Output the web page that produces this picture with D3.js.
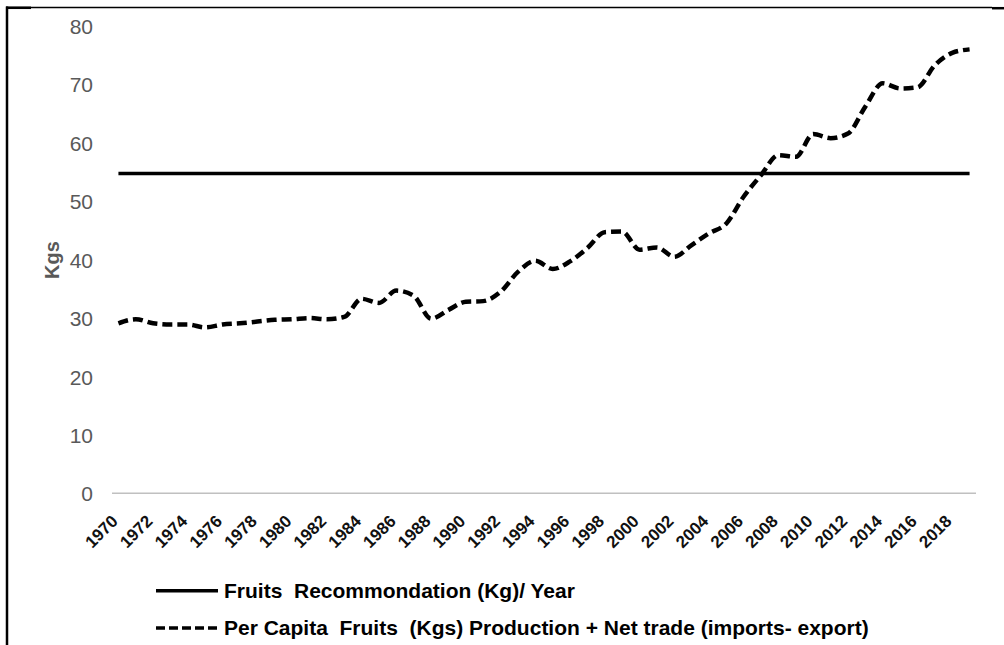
<!DOCTYPE html>
<html>
<head>
<meta charset="utf-8">
<script src="https://cdn.jsdelivr.net/npm/d3@7"></script>
<style>
  body { margin: 0; background: #fff; }
  svg { display: block; font-family: "Liberation Sans", Arial, sans-serif; }
</style>
</head>
<body>
<svg id="chart" width="1004" height="645"></svg>
<script>
// years on the category axis
var years = d3.range(1970, 2020);
// per capita fruits (kg) production + net trade
var perCapita = [29.1, 29.8, 29.1, 28.9, 28.9, 28.4, 28.9, 29.1, 29.4, 29.7,
                 29.8, 30.0, 29.8, 30.2, 33.3, 32.6, 34.7, 33.8, 29.9, 31.4,
                 32.8, 32.9, 34.5, 37.9, 39.8, 38.4, 39.7, 42.0, 44.7, 44.8,
                 41.7, 42.1, 40.5, 42.5, 44.5, 46.2, 50.8, 54.5, 57.9, 57.6,
                 61.5, 60.8, 61.6, 66.2, 70.2, 69.3, 69.5, 73.3, 75.4, 76.0];
// recommendation (kg / year)
var recommendation = years.map(function() { return 54.75; });
var yTicks = [0, 10, 20, 30, 40, 50, 60, 70, 80];
var xTickYears = years.filter(function(y) { return y % 2 === 0; });
var legendLabels = ["Fruits  Recommondation (Kg)/ Year",
                    "Per Capita  Fruits  (Kgs) Production + Net trade (imports- export)"];

var svg = d3.select("#chart");

// frame (left and top only, as in the scan)
svg.append("line").attr("x1", 7).attr("y1", 6.5).attr("x2", 7).attr("y2", 645)
    .attr("stroke", "#000").attr("stroke-width", 2.5);
svg.append("line").attr("x1", 6).attr("y1", 7.5).attr("x2", 992).attr("y2", 7.5)
    .attr("stroke", "#000").attr("stroke-width", 1.5);
svg.append("line").attr("x1", 6).attr("y1", 7.8).attr("x2", 31).attr("y2", 7.8)
    .attr("stroke", "#000").attr("stroke-width", 2.5);
svg.append("line").attr("x1", 992).attr("y1", 8.2).attr("x2", 1004).attr("y2", 8.2)
    .attr("stroke", "#000").attr("stroke-width", 2.5);

var x = d3.scalePoint().domain(years).range([112, 976]).padding(0.37);
var y = d3.scaleLinear().domain([0, 80]).range([493.3, 26]);

// y axis (labels only)
var yAxis = svg.append("g").attr("transform", "translate(93,0)")
    .call(d3.axisLeft(y).tickValues(yTicks).tickSize(0).tickPadding(0));
yAxis.select(".domain").remove();
yAxis.selectAll("text")
    .attr("fill", "#595959")
    .style("font-size", "21px")
    .attr("dy", "0.36em");

svg.append("text")
    .attr("transform", "translate(59,260) rotate(-90)")
    .attr("text-anchor", "middle")
    .attr("fill", "#595959")
    .style("font-size", "20px")
    .style("font-weight", "bold")
    .text("Kgs");

// x axis
var xAxis = svg.append("g").attr("transform", "translate(0," + y(0) + ")")
    .call(d3.axisBottom(x).tickValues(xTickYears).tickSize(0));
xAxis.select(".domain").remove();
svg.append("line")
    .attr("x1", 112).attr("x2", 976)
    .attr("y1", y(0)).attr("y2", y(0))
    .attr("stroke", "#c0c0c0").attr("stroke-width", 1.5);
xAxis.selectAll("text")
    .attr("y", 0).attr("dy", 0)
    .attr("text-anchor", "end")
    .attr("transform", "translate(0,29) rotate(-45)")
    .attr("fill", "#111")
    .style("font-size", "17px")
    .style("font-weight", "bold");

var line = d3.line()
    .x(function(d, i) { return x(years[i]); })
    .y(function(d) { return y(d); });

svg.append("path")
    .datum(recommendation)
    .attr("d", line)
    .attr("fill", "none")
    .attr("stroke", "#000")
    .attr("stroke-width", 3.5);

svg.append("path")
    .datum(perCapita)
    .attr("d", line.curve(d3.curveMonotoneX))
    .attr("fill", "none")
    .attr("stroke", "#000")
    .attr("stroke-width", 4.5)
    .attr("stroke-dasharray", "10,5");

// legend
var legend = svg.append("g");
var legendRows = [
    { label: legendLabels[0], dash: null, y: 590.7 },
    { label: legendLabels[1], dash: "9,4", y: 628 }
];
legendRows.forEach(function(r) {
    legend.append("line")
        .attr("x1", 156).attr("x2", 218)
        .attr("y1", r.y).attr("y2", r.y)
        .attr("stroke", "#000")
        .attr("stroke-width", 3.5)
        .attr("stroke-dasharray", r.dash);
    legend.append("text")
        .attr("x", 224).attr("y", r.y + 7)
        .attr("fill", "#000")
        .style("font-size", "21px")
        .style("font-weight", "bold")
        .style("white-space", "pre")
        .text(r.label);
});
</script>
</body>
</html>
